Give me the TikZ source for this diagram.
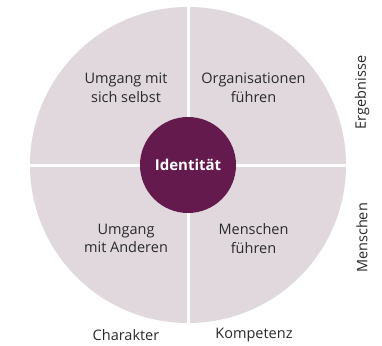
\documentclass[tikz,border=0pt]{standalone}
\usepackage{fontspec}
\setmainfont{Open Sans}
\definecolor{quad}{HTML}{E0D8DD}
\definecolor{core}{HTML}{651A4D}
\definecolor{txt}{HTML}{2A2A2A}
\begin{document}
\begin{tikzpicture}[x=1pt,y=-1pt,
  lbl/.style={align=center,font=\fontsize{14.5}{18.5}\selectfont,text=txt,inner sep=0pt},
  axis/.style={font=\fontsize{14.5}{16}\selectfont,text=txt,inner sep=0pt}]
\useasboundingbox[fill=white] (0,0) rectangle (382,345);
\coordinate (c) at (188,165);
\fill[quad] (c) circle[radius=158];
\draw[white,line width=3] (30,165) -- (346,165);
\draw[white,line width=3] (188,7) -- (188,323);
\node[circle,fill=core,minimum size=96,inner sep=0pt,text=white,
  font=\fontsize{15}{16}\selectfont\bfseries] (id) at (c) {Identität};
\node[lbl] (q1) at (126,87.5) {Umgang mit\\sich selbst};
\node[lbl] (q2) at (253.5,87.5) {Organisationen\\führen};
\node[lbl] (q3) at (126,238.5) {Umgang\\mit Anderen};
\node[lbl] (q4) at (253.5,238.5) {Menschen\\führen};
\node[axis] (a1) at (126,335) {Charakter};
\node[axis] (a2) at (254,335) {Kompetenz};
\node[axis,rotate=90] (a3) at (362,92.5) {Ergebnisse};
\node[axis,rotate=90] (a4) at (362,238) {Menschen};
\end{tikzpicture}
\end{document}
